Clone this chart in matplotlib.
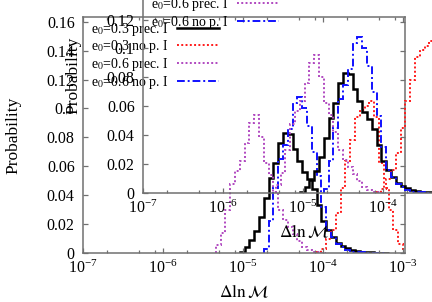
"""Mass-error histograms, drawn twice: main panel plus an offset copy on top."""

import numpy as np
import matplotlib

matplotlib.use("Agg")
import matplotlib.pyplot as plt
from matplotlib.ticker import FuncFormatter, LogLocator, MultipleLocator, NullFormatter

plt.rcParams["font.family"] = ["Liberation Serif", "DejaVu Serif"]
plt.rcParams["mathtext.fontset"] = "stix"

# histogram bins: log10(Delta ln M), regular grid
bin_start = -5.40
bin_width = 0.06

labels = [
    r"e$_0$=0.3 prec. I",
    r"e$_0$=0.3 no p. I",
    r"e$_0$=0.6 prec. I",
    r"e$_0$=0.6 no p. I",
]

e03_prec = [
    0, 0, 0, 0, 0, 0, 0.001, 0.004, 0.009, 0.015,
    0.025, 0.038, 0.052, 0.062, 0.076, 0.083, 0.082, 0.072, 0.064, 0.056,
    0.051, 0.044, 0.033, 0.022, 0.016, 0.011, 0.007, 0.005, 0.0035, 0.002,
    0.0012, 0.0008, 0.0005, 0.0004, 0.0003, 0.0002, 0.0001, 0, 0, 0,
    0, 0,
]
e03_nop = [
    0, 0, 0, 0, 0, 0, 0, 0, 0, 0,
    0, 0, 0, 0, 0, 0, 0, 0, 0, 0,
    0, 0, 0.001, 0.003, 0.010, 0.016, 0.028, 0.045, 0.064, 0.078,
    0.094, 0.099, 0.102, 0.105, 0.094, 0.062, 0.045, 0.030, 0.016, 0.006,
    0.002, 0.001,
]
e06_prec = [
    0, 0.0055, 0.014, 0.030, 0.048, 0.057, 0.064, 0.076, 0.090, 0.0955,
    0.080, 0.062, 0.054, 0.042, 0.030, 0.023, 0.018, 0.013, 0.008, 0.004,
    0.002, 0.001, 0.0005, 0.0003, 0, 0, 0, 0, 0, 0,
    0, 0, 0, 0, 0, 0, 0, 0, 0, 0,
    0, 0,
]
e06_nop = [
    0, 0, 0, 0, 0, 0, 0, 0, 0, 0,
    0, 0.003, 0.022, 0.045, 0.065, 0.075, 0.086, 0.104, 0.108, 0.100,
    0.088, 0.070, 0.053, 0.032, 0.016, 0.011, 0.0065, 0.004, 0.002, 0.001,
    0.0007, 0.0005, 0.0003, 0.0002, 0.0002, 0.0001, 0, 0, 0, 0,
    0, 0,
]

series = [e03_prec, e03_nop, e06_prec, e06_nop]
colors = ["black", "#ff1a1a", "#b048c0", "#1010ff"]
styles = ["-", (0, (1.0, 1.2)), (0, (1.0, 1.2)), (0, (4.0, 1.5, 1.0, 1.5))]
widths = [1.8, 1.4, 1.4, 1.4]

edges = 10 ** (bin_start + bin_width * np.arange(len(e03_prec) + 1))


def draw_panel(ax):
    for vals, c, ls, lw, lab in zip(series, colors, styles, widths, labels):
        vals = np.asarray(vals, dtype=float)
        nz = np.nonzero(vals)[0]
        i0, i1 = nz[0], nz[-1] + 1
        ax.stairs(vals[i0:i1], edges[i0:i1 + 1], color=c, linestyle=ls,
                  linewidth=lw, label=lab, baseline=0)

    ax.set_xscale("log")
    ax.set_xlim(1e-7, 1.06e-3)
    ax.set_ylim(0, 0.1633)
    ax.xaxis.set_major_locator(LogLocator(base=10, numticks=12))
    ax.xaxis.set_minor_locator(LogLocator(base=10, subs=(2, 5, 8), numticks=12))
    ax.xaxis.set_minor_formatter(NullFormatter())
    ax.yaxis.set_major_locator(MultipleLocator(0.02))
    ax.yaxis.set_major_formatter(FuncFormatter(lambda v, p: f"{v:g}"))
    ax.tick_params(which="both", direction="in", top=True, right=True,
                   labelsize=11.5, color="#707070")
    ax.tick_params(which="major", length=3.5, width=0.9)
    ax.tick_params(which="minor", length=2.0, width=0.9)
    ax.tick_params(axis="x", pad=5)
    ax.tick_params(axis="y", pad=6)
    for sp in ax.spines.values():
        sp.set_color("#707070")
        sp.set_linewidth(1.1)

    ax.set_xlabel(r"$\Delta\ln\mathcal{M}$", fontsize=12.5)
    ax.set_ylabel("Probability", fontsize=12.5)
    ax.xaxis.set_label_coords(0.5, -0.125)
    ax.yaxis.set_label_coords(-0.19, 0.5)

    ax.legend(loc="upper left", bbox_to_anchor=(0.025, 0.985), frameon=False,
              markerfirst=False, fontsize=10, handlelength=3.0,
              handletextpad=0.6, labelspacing=0.05, borderpad=0,
              borderaxespad=0)


fig = plt.figure(figsize=(4.32, 3.02), dpi=100)
main_ax = fig.add_axes([83 / 432, 49 / 302, 322 / 432, 236 / 302])
draw_panel(main_ax)

inset_ax = fig.add_axes([143 / 432, 109 / 302, 322 / 432, 236 / 302])
inset_ax.set_facecolor("none")
draw_panel(inset_ax)

fig.savefig("out.png", dpi=100)
